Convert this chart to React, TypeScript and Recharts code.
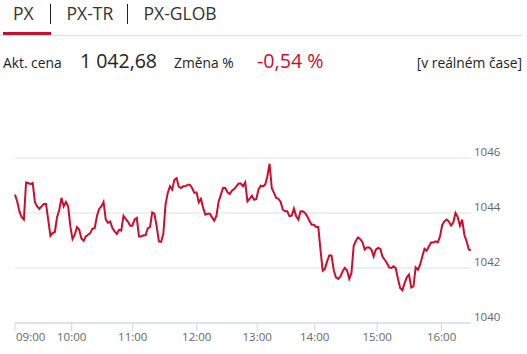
import React from 'react';
import { LineChart, Line, XAxis, YAxis, CartesianGrid } from 'recharts';

const tabs = ['PX', 'PX-TR', 'PX-GLOB'];
const priceLabel = 'Akt. cena';
const priceValue = '1 042,68';
const changeLabel = 'Změna %';
const changeValue = '-0,54 %';
const realtimeLabel = '[v reálném čase]';

const values: number[] = [
  1044.67, 1044.42, 1044.06, 1043.85, 1043.76, 1045.11, 1045.09, 1045.05, 1045.09, 1044.39,
  1044.24, 1044.15, 1044.24, 1044.33, 1044.33, 1043.76, 1043.17, 1043.27, 1043.31, 1043.85,
  1044.12, 1044.55, 1044.24, 1044.40, 1044.24, 1043.51, 1043.05, 1043.21, 1043.49, 1043.39,
  1043.07, 1042.99, 1043.15, 1043.21, 1043.27, 1043.43, 1043.45, 1043.88, 1044.15, 1044.24,
  1044.40, 1043.76, 1043.64, 1043.69, 1043.45, 1043.33, 1043.24, 1043.39, 1043.36, 1043.90,
  1043.79, 1043.69, 1043.54, 1043.54, 1043.76, 1043.82, 1043.15, 1043.15, 1043.19, 1043.19,
  1043.45, 1043.49, 1044.02, 1043.97, 1043.51, 1042.97, 1042.95, 1043.24, 1044.30, 1044.73,
  1044.97, 1044.85, 1045.21, 1045.27, 1044.95, 1044.91, 1044.97, 1044.97, 1045.03, 1045.03,
  1044.91, 1044.73, 1044.75, 1044.39, 1044.52, 1044.18, 1043.94, 1043.97, 1043.97, 1043.84,
  1043.72, 1043.90, 1044.42, 1044.67, 1044.91, 1044.91, 1044.75, 1044.69, 1044.81, 1044.87,
  1044.97, 1045.07, 1045.07, 1044.97, 1045.11, 1044.42, 1044.51, 1044.63, 1044.48, 1044.51,
  1044.85, 1044.99, 1044.97, 1045.03, 1045.33, 1045.79, 1044.91, 1044.73, 1044.55, 1044.52,
  1044.40, 1044.12, 1044.06, 1044.06, 1043.88, 1043.90, 1044.16, 1043.88, 1043.76, 1044.06,
  1044.06, 1044.00, 1043.88, 1043.72, 1043.57, 1043.57, 1043.49, 1043.49, 1042.67, 1041.90,
  1041.97, 1042.24, 1042.46, 1042.45, 1041.91, 1041.66, 1041.60, 1041.69, 1041.88, 1042.00,
  1041.91, 1041.60, 1041.82, 1042.81, 1042.99, 1043.11, 1043.05, 1042.93, 1042.67, 1042.75,
  1042.75, 1042.67, 1042.42, 1042.67, 1042.73, 1042.70, 1042.42, 1042.30, 1042.18, 1042.02,
  1042.00, 1042.06, 1042.00, 1041.61, 1041.27, 1041.19, 1041.45, 1041.66, 1041.76, 1041.29,
  1041.33, 1042.02, 1041.94, 1042.12, 1042.42, 1042.70, 1042.63, 1042.79, 1042.93, 1042.93,
  1042.97, 1042.93, 1043.15, 1043.57, 1043.69, 1043.76, 1043.69, 1043.54, 1043.66, 1044.00,
  1043.85, 1043.54, 1043.76, 1043.21, 1042.97, 1042.67, 1042.64,
];

const hourLabels = ['09:00', '10:00', '11:00', '12:00', '13:00', '14:00', '15:00', '16:00'];
const hourIndex = [0, 25.6, 53.2, 82.1, 109.4, 135.4, 163.6, 192.7];
const yTicks = [1040, 1042, 1044, 1046];

const data = values.map((v, i) => ({ i, v }));

const RED = '#c8102e';
const FONT = '"Open Sans", sans-serif';

const XTick = (props: any) => {
  const { x, y, payload, index } = props;
  const idx = hourIndex.indexOf(payload.value);
  const label = idx >= 0 ? hourLabels[idx] : '';
  return (
    <text x={index === 0 ? x + 1 : x} y={y} dy="0.71em" textAnchor={index === 0 ? 'start' : 'middle'}
      fill="#666" fontSize={11.5} fontFamily={FONT}>{label}</text>
  );
};

const YTick = (props: any) => {
  const { x, y, payload } = props;
  return (
    <text x={x} y={y - 2} textAnchor="start" fill="#666" fontSize={11.5} fontFamily={FONT}>{payload.value}</text>
  );
};

export default function App() {
  return (
    <div style={{ position: 'absolute', left: 0, top: 0, width: 527, height: 354, background: '#fff', fontFamily: FONT }}>
      <svg width={527} height={90} style={{ position: 'absolute', left: 0, top: 0 }}>
        <text x={13} y={19.5} fontSize={17.5} fill="#333" fontFamily={FONT}>{tabs[0]}</text>
        <line x1={50.5} y1={4} x2={50.5} y2={24} stroke="#222" strokeWidth={1} />
        <text x={66.5} y={19.5} fontSize={17.5} fill="#333" fontFamily={FONT}>{tabs[1]}</text>
        <line x1={127.5} y1={4} x2={127.5} y2={24} stroke="#222" strokeWidth={1} />
        <text x={143.5} y={19.5} fontSize={17.5} fill="#333" fontFamily={FONT}>{tabs[2]}</text>
        <line x1={0} y1={35.5} x2={522} y2={35.5} stroke="#dddddd" strokeWidth={1} />
        <rect x={3} y={32} width={48} height={3} fill={RED} />
        <text x={3} y={67.7} fontSize={13.8} fill="#222" fontFamily={FONT}>{priceLabel}</text>
        <text x={80} y={67.7} fontSize={19.5} fill="#222" fontFamily={FONT}>{priceValue}</text>
        <text x={174} y={67.7} fontSize={13.8} fill="#222" fontFamily={FONT}>{changeLabel}</text>
        <text x={257} y={67.7} fontSize={19.7} fill={RED} fontFamily={FONT}>{changeValue}</text>
        <text x={522} y={67.7} fontSize={13.8} fill="#222" fontFamily={FONT} textAnchor="end">{realtimeLabel}</text>
      </svg>
      <div style={{ position: 'absolute', left: 0, top: 138 }}>
        <LineChart width={527} height={215} data={data} margin={{ top: 20, right: 0, bottom: 0, left: 15 }}>
          <CartesianGrid horizontal vertical={false} stroke="#e0e0e0" />
          <XAxis dataKey="i" type="number" domain={[0, values.length - 1]} ticks={hourIndex}
            interval={0} height={30} tickSize={8} tickMargin={2}
            axisLine={{ stroke: '#ccd6eb' }} tickLine={{ stroke: '#ccd6eb' }} tick={<XTick />} />
          <YAxis orientation="right" domain={[1040, 1046]} ticks={yTicks} width={56}
            axisLine={false} tickLine={false} tickSize={0} tickMargin={3} tick={<YTick />} />
          <Line type="linear" dataKey="v" stroke={RED} strokeWidth={2} dot={false} isAnimationActive={false} />
        </LineChart>
      </div>
    </div>
  );
}
